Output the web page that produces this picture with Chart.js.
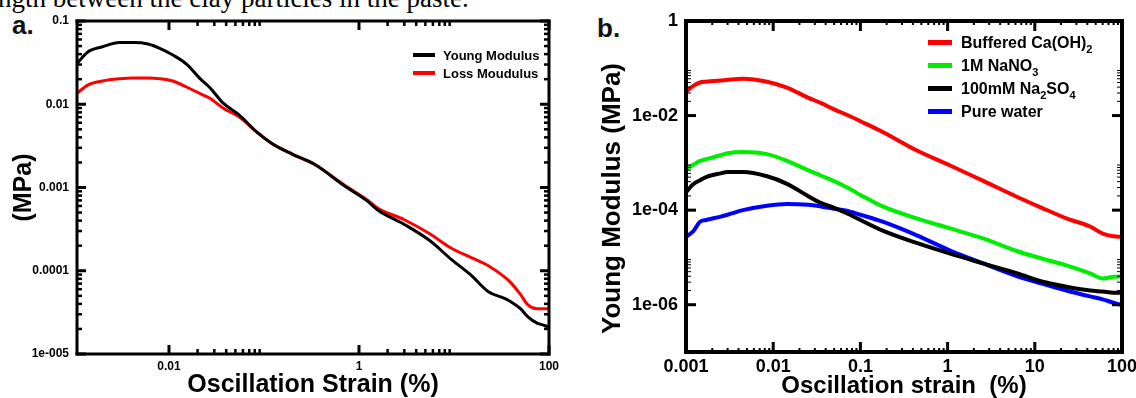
<!DOCTYPE html>
<html lang="en">
<head>
<meta charset="UTF-8">
<title>Young and loss modulus vs oscillation strain</title>
<script src="https://cdn.jsdelivr.net/npm/chart.js"></script>
<style>
  html, body { margin: 0; padding: 0; background: #fff; }
  #page { position: relative; width: 1136px; height: 398px; overflow: hidden; font-family: 'Liberation Sans', Arial, sans-serif; color: #000; }
  #page .txt { position: absolute; white-space: nowrap; }
  #topline { left: -2px; top: -14px; font: 27px/24px 'Liberation Serif', 'Times New Roman', serif; }
  .lbl { font-size: 26px; line-height: 26px; font-weight: bold; color: #111; }
  .holder { position: absolute; top: 0; height: 398px; }
  .key { position: absolute; font-weight: bold; }
  .key div { display: flex; align-items: center; white-space: nowrap; }
  .key i { display: inline-block; }
  .key sub { font-size: 11px; vertical-align: -5px; line-height: 0; }
</style>
</head>
<body>
<div id="page">
  <div class="txt" id="topline">ngth between the clay particles in the paste.</div>
  <div class="txt lbl" style="left:12px; top:12px;">a.</div>
  <div class="txt lbl" style="left:597px; top:15px;">b.</div>
  <div class="holder" style="left:0; width:580px;"><canvas id="left-plot"></canvas></div>
  <div class="holder" style="left:580px; width:556px;"><canvas id="right-plot"></canvas></div>
  <div class="key" id="key-left" style="left:413px; top:46px; font-size:13px;"></div>
  <div class="key" id="key-right" style="left:928px; top:31px; font-size:16px;"></div>
</div>

<script>
// panel a -- strain (%) and modulus (MPa)
const strainA = [0.00108, 0.0014, 0.002, 0.003, 0.0042, 0.006, 0.008, 0.011, 0.0155, 0.021,
                 0.027, 0.037, 0.055, 0.083, 0.12, 0.2, 0.34, 0.7, 1.2, 1.6,
                 3, 5.5, 9.5, 15, 23, 35, 40, 50, 60, 75, 90, 100];
const youngA = [0.031, 0.0425, 0.049, 0.055, 0.055, 0.053, 0.047, 0.039, 0.030, 0.0206,
                0.0158, 0.0104, 0.0074, 0.0047, 0.0034, 0.0025, 0.0019, 0.00105, 0.0007, 0.00053,
                0.00036, 0.000232, 0.000135, 0.000089, 0.000056, 0.000046, 0.000042, 0.000035, 0.000028, 0.0000235, 0.000022, 0.000021];
const lossA = [0.0136, 0.017, 0.019, 0.0202, 0.0207, 0.0207, 0.0203, 0.019, 0.016, 0.0135,
               0.0118, 0.0090, 0.0070, 0.0047, 0.0034, 0.0025, 0.0019, 0.00107, 0.00072, 0.00056,
               0.00041, 0.00028, 0.000185, 0.000145, 0.000115, 0.000082, 0.000071, 0.000052, 0.000039, 0.000035, 0.000035, 0.000035];
const namesA = ['Young Modulus', 'Loss Moudulus'];
const coloursA = ['#000000', '#ff0000'];
const xTicksA = [0.01, 1, 100];
const xLabelsA = ['0.01', '1', '100'];
const xMinorA = [0.01, 1];
const yTicksA = [1e-5, 1e-4, 1e-3, 1e-2, 1e-1];
const yLabelsA = ['1e-005', '0.0001', '0.001', '0.01', '0.1'];
const yMinorA = [1e-5, 1e-4, 1e-3, 1e-2];

// panel b -- Young modulus in four pore solutions
const strainB = [0.001, 0.0012, 0.00145, 0.0017, 0.0025, 0.003, 0.0045, 0.0085, 0.0144, 0.025,
                 0.035, 0.05, 0.076, 0.1, 0.18, 0.45, 1.07, 2.6, 6.3, 12,
                 23, 43, 60, 80, 100];
const caoh = [0.032, 0.042, 0.050, 0.052, 0.055, 0.057, 0.060, 0.052, 0.039, 0.024,
              0.0185, 0.0135, 0.0097, 0.0076, 0.0045, 0.0018, 0.00088, 0.00041, 0.00019, 0.000112,
              0.000067, 0.000045, 0.000032, 0.000028, 0.000027];
const nano3 = [0.00074, 0.0009, 0.0011, 0.0012, 0.00145, 0.0016, 0.0017, 0.00153, 0.0011, 0.0007,
               0.00054, 0.00041, 0.00028, 0.00021, 0.00012, 0.000066, 0.000041, 0.000025, 0.0000135, 0.0000095,
               0.0000068, 0.0000046, 0.0000036, 0.0000039, 0.000004];
const na2so4 = [0.00024, 0.00035, 0.00043, 0.0005, 0.0006, 0.00064, 0.00064, 0.00052, 0.00036, 0.0002,
                0.000143, 0.000112, 0.00008, 0.000062, 0.000037, 0.00002, 0.000012, 0.0000074, 0.0000046, 0.0000031,
                0.0000024, 0.000002, 0.0000019, 0.0000018, 0.0000018];
const water = [0.0000275, 0.000035, 0.000057, 0.000062, 0.000073, 0.00008, 0.0001, 0.000124, 0.000135, 0.00013,
               0.00012, 0.000107, 0.000093, 0.00008, 0.000057, 0.000029, 0.000014, 0.0000074, 0.000004, 0.0000028,
               0.000002, 0.0000015, 0.0000013, 0.0000011, 0.00000098];
const namesB = ['Buffered Ca(OH)_2', '1M NaNO_3', '100mM Na_2SO_4', 'Pure water'];
const coloursB = ['#ff0000', '#00ee00', '#000000', '#0000ff'];
const xTicksB = [0.001, 0.01, 0.1, 1, 10, 100];
const xLabelsB = ['0.001', '0.01', '0.1', '1', '10', '100'];
const xMinorB = [0.001, 0.01, 0.1, 1, 10];
const yTicksB = [1e-6, 1e-4, 1e-2, 1];
const yLabelsB = ['1e-06', '1e-04', '1e-02', '1'];
const yMinorB = [1e-6, 1e-4, 1e-2];

const FACE = 'Liberation Sans';
const fill29 = decs => decs.flatMap(d => [2, 3, 4, 5, 6, 7, 8, 9].map(k => d * k));
const xy = (xs, ys) => xs.map((x, i) => ({ x: x, y: ys[i] }));

// closed frame with inward tick marks, mirrored on top/right
function frame(cfg) {
  return {
    id: 'frame',
    afterDraw(chart) {
      const c = chart.ctx;
      const L = chart.chartArea.left, R = chart.chartArea.right;
      const T = chart.chartArea.top, B = chart.chartArea.bottom;
      const sx = chart.scales.x, sy = chart.scales.y;
      c.save();
      c.fillStyle = '#000';
      function xt(vals, len, w) {
        for (const v of vals) {
          const p = sx.getPixelForValue(v);
          if (p < L - 1 || p > R + 1) continue;
          c.fillRect(p - w / 2, B - len, w, len);
          c.fillRect(p - w / 2, T, w, len);
        }
      }
      function yt(vals, len, w) {
        for (const v of vals) {
          const p = sy.getPixelForValue(v);
          if (p < T - 1 || p > B + 1) continue;
          c.fillRect(L, p - w / 2, len, w);
          c.fillRect(R - len, p - w / 2, len, w);
        }
      }
      xt(fill29(cfg.xMinor), cfg.xMinorLen, cfg.xMinorW);
      yt(fill29(cfg.yMinor), cfg.yMinorLen, cfg.yMinorW);
      xt(cfg.xMajor, cfg.majorLen, cfg.majorW);
      yt(cfg.yMajor, cfg.majorLen, cfg.majorW);
      const f = cfg.line;
      c.fillRect(L - f / 2, T - f / 2, R - L + f, f);
      c.fillRect(L - f / 2, B - f / 2, R - L + f, f);
      c.fillRect(L - f / 2, T - f / 2, f, B - T + f);
      c.fillRect(R - f / 2, T - f / 2, f, B - T + f);
      if (cfg.yTitle) {
        c.translate(cfg.yTitle.x, (T + B) / 2 + cfg.yTitle.shift);
        c.rotate(-Math.PI / 2);
        c.font = 'bold ' + cfg.yTitle.size + 'px ' + FACE;
        c.textAlign = 'center';
        c.textBaseline = 'middle';
        c.fillText(cfg.yTitle.text, 0, 0);
      }
      c.restore();
    }
  };
}

function axis(a) {
  return {
    type: 'logarithmic',
    min: a.min,
    max: a.max,
    afterBuildTicks: s => { s.ticks = a.at.map(v => ({ value: v })); },
    afterFit: s => {
      if (a.w) s.width = a.w;
      if (a.h) s.height = a.h;
      s.paddingLeft = s.paddingRight = s.paddingTop = s.paddingBottom = 0;
    },
    grid: { display: false, drawTicks: false },
    border: { display: false },
    ticks: {
      autoSkip: false, maxRotation: 0, padding: a.pad, color: '#000',
      font: { family: FACE, size: a.size, weight: 'bold' },
      callback: (v, i) => a.text[i]
    },
    title: a.title
      ? { display: true, text: a.title, color: '#000', padding: a.tpad,
          font: { family: FACE, size: a.tsize, weight: 'bold', lineHeight: 1 } }
      : { display: false }
  };
}

function lines(xs, series, names, colours, width) {
  return series.map((ys, i) => ({
    label: names[i], data: xy(xs, ys), borderColor: colours[i], borderWidth: width,
    pointRadius: 0, cubicInterpolationMode: 'monotone', fill: false
  }));
}

const common = {
  responsive: true, maintainAspectRatio: false, animation: false,
  plugins: { legend: { display: false }, tooltip: { enabled: false } }
};

new Chart(document.getElementById('left-plot'), {
  type: 'line',
  data: { datasets: lines(strainA, [youngA, lossA], namesA, coloursA, 3) },
  options: Object.assign({}, common, {
    layout: { padding: { top: 21, right: 31, bottom: 0, left: 0 } },
    scales: {
      x: axis({ min: 0.001076, max: 100, at: xTicksA, text: xLabelsA, h: 44, pad: 5, size: 12,
                title: 'Oscillation Strain (%)', tsize: 25, tpad: { top: 0, bottom: 0 } }),
      y: axis({ min: 1e-5, max: 0.1, at: yTicksA, text: yLabelsA, w: 77, pad: 8, size: 12,
                title: '(MPa)', tsize: 25, tpad: { top: 12, bottom: 0 } })
    }
  }),
  plugins: [frame({ line: 3, xMajor: xTicksA, xMinor: xMinorA, yMajor: yTicksA, yMinor: yMinorA,
                    majorLen: 9, majorW: 3, xMinorLen: 5, xMinorW: 2.5, yMinorLen: 5, yMinorW: 2.5 })]
});

new Chart(document.getElementById('right-plot'), {
  type: 'line',
  data: { datasets: lines(strainB, [caoh, nano3, na2so4, water], namesB, coloursB, 4) },
  options: Object.assign({}, common, {
    layout: { padding: { top: 21, right: 14, bottom: 0, left: 0 } },
    scales: {
      x: axis({ min: 0.001, max: 100, at: xTicksB, text: xLabelsB, h: 46, pad: 4, size: 18,
                title: 'Oscillation strain  (%)', tsize: 24, tpad: { top: 0, bottom: 0 } }),
      y: axis({ min: 1e-7, max: 1, at: yTicksB, text: yLabelsB, w: 106, pad: 8, size: 18 })
    }
  }),
  plugins: [frame({ line: 4, xMajor: xTicksB, xMinor: xMinorB, yMajor: yTicksB, yMinor: yMinorB,
                    majorLen: 10, majorW: 3, xMinorLen: 4, xMinorW: 2, yMinorLen: 5, yMinorW: 1,
                    yTitle: { text: 'Young Modulus (MPa)', x: 33, shift: 12, size: 26 } })]
});

// html keys, so the chemical subscripts come out right
function key(id, names, colours, rowH, w, h, gap) {
  const box = document.getElementById(id);
  names.forEach((n, i) => {
    const row = document.createElement('div');
    row.style.height = rowH + 'px';
    row.innerHTML = `<i style="width:${w}px;height:${h}px;background:${colours[i]};margin-right:${gap}px"></i>` +
                    `<span>${n.replace(/_(\d)/g, '<sub>$1</sub>')}</span>`;
    box.appendChild(row);
  });
}
key('key-left', namesA, coloursA, 18, 22, 4, 8);
key('key-right', namesB, coloursB, 23, 24, 5, 9);
</script>
</body>
</html>
